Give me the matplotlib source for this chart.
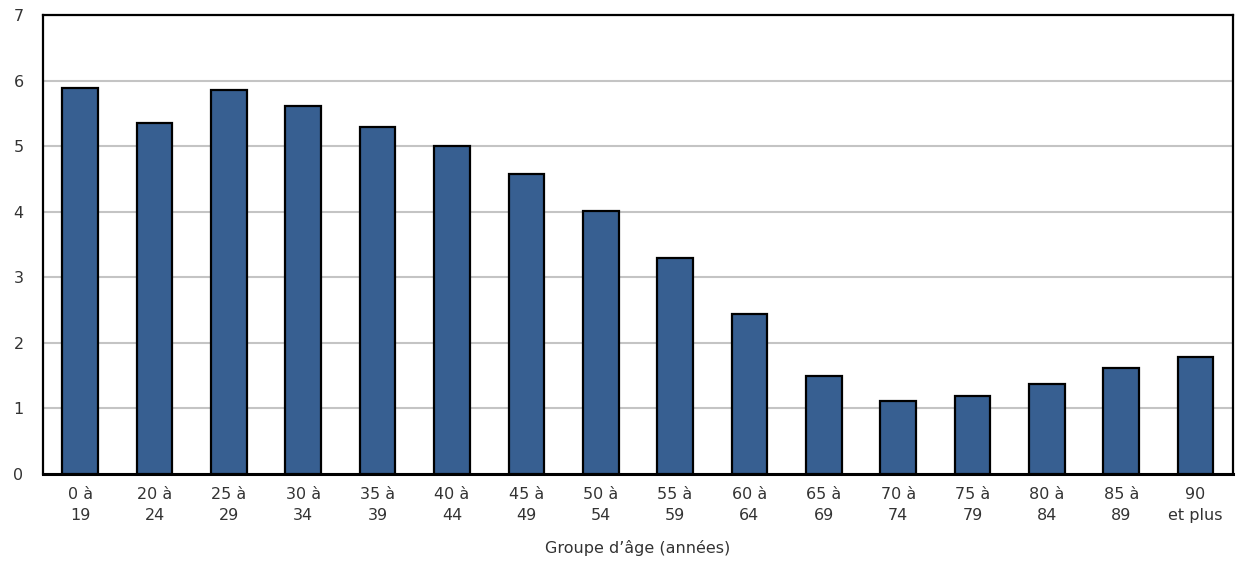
import matplotlib
matplotlib.use("Agg")
import matplotlib.pyplot as plt
import numpy as np

# --- Data ---
age_groups = ["0 à\n19", "20 à\n24", "25 à\n29", "30 à\n34", "35 à\n39", "40 à\n44",
              "45 à\n49", "50 à\n54", "55 à\n59", "60 à\n64", "65 à\n69", "70 à\n74",
              "75 à\n79", "80 à\n84", "85 à\n89", "90\net plus"]
values = [5.88, 5.35, 5.85, 5.61, 5.29, 5.00, 4.57, 4.01, 3.29, 2.44,
          1.49, 1.12, 1.19, 1.37, 1.62, 1.79]
y_ticks = [0, 1, 2, 3, 4, 5, 6, 7]

BAR_COLOR = "#375F91"
GRID_COLOR = "#C4C4C4"
TEXT_COLOR = "#333333"

plt.rcParams['font.family'] = ['DejaVu Sans']

fig = plt.figure(figsize=(12.39, 5.67), dpi=100)
ax = fig.add_axes([0.0347, 0.164, 0.9603, 0.8095])

x = np.arange(len(values))
ax.bar(x, values, width=0.48, color=BAR_COLOR, edgecolor="black", linewidth=1.6, zorder=3)

ax.set_xlim(-0.5, len(values) - 0.5)
ax.set_ylim(0, 7)
ax.set_yticks(y_ticks)
ax.set_xticks(x)
ax.set_xticklabels(age_groups, fontsize=11.5, color=TEXT_COLOR, linespacing=1.55)
ax.tick_params(axis="y", labelsize=11.5, labelcolor=TEXT_COLOR, length=0, pad=14)
ax.tick_params(axis="x", length=0, pad=9)

ax.yaxis.grid(True, color=GRID_COLOR, linewidth=1.5, zorder=0)
ax.set_axisbelow(True)
for side in ["top", "right", "left", "bottom"]:
    ax.spines[side].set_linewidth(1.6)
    ax.spines[side].set_color("black")
ax.spines["bottom"].set_linewidth(2.2)

ax.set_xlabel("Groupe d\u2019âge (années)", fontsize=11.5, color=TEXT_COLOR, labelpad=12)

fig.savefig("out.png", dpi=100)
